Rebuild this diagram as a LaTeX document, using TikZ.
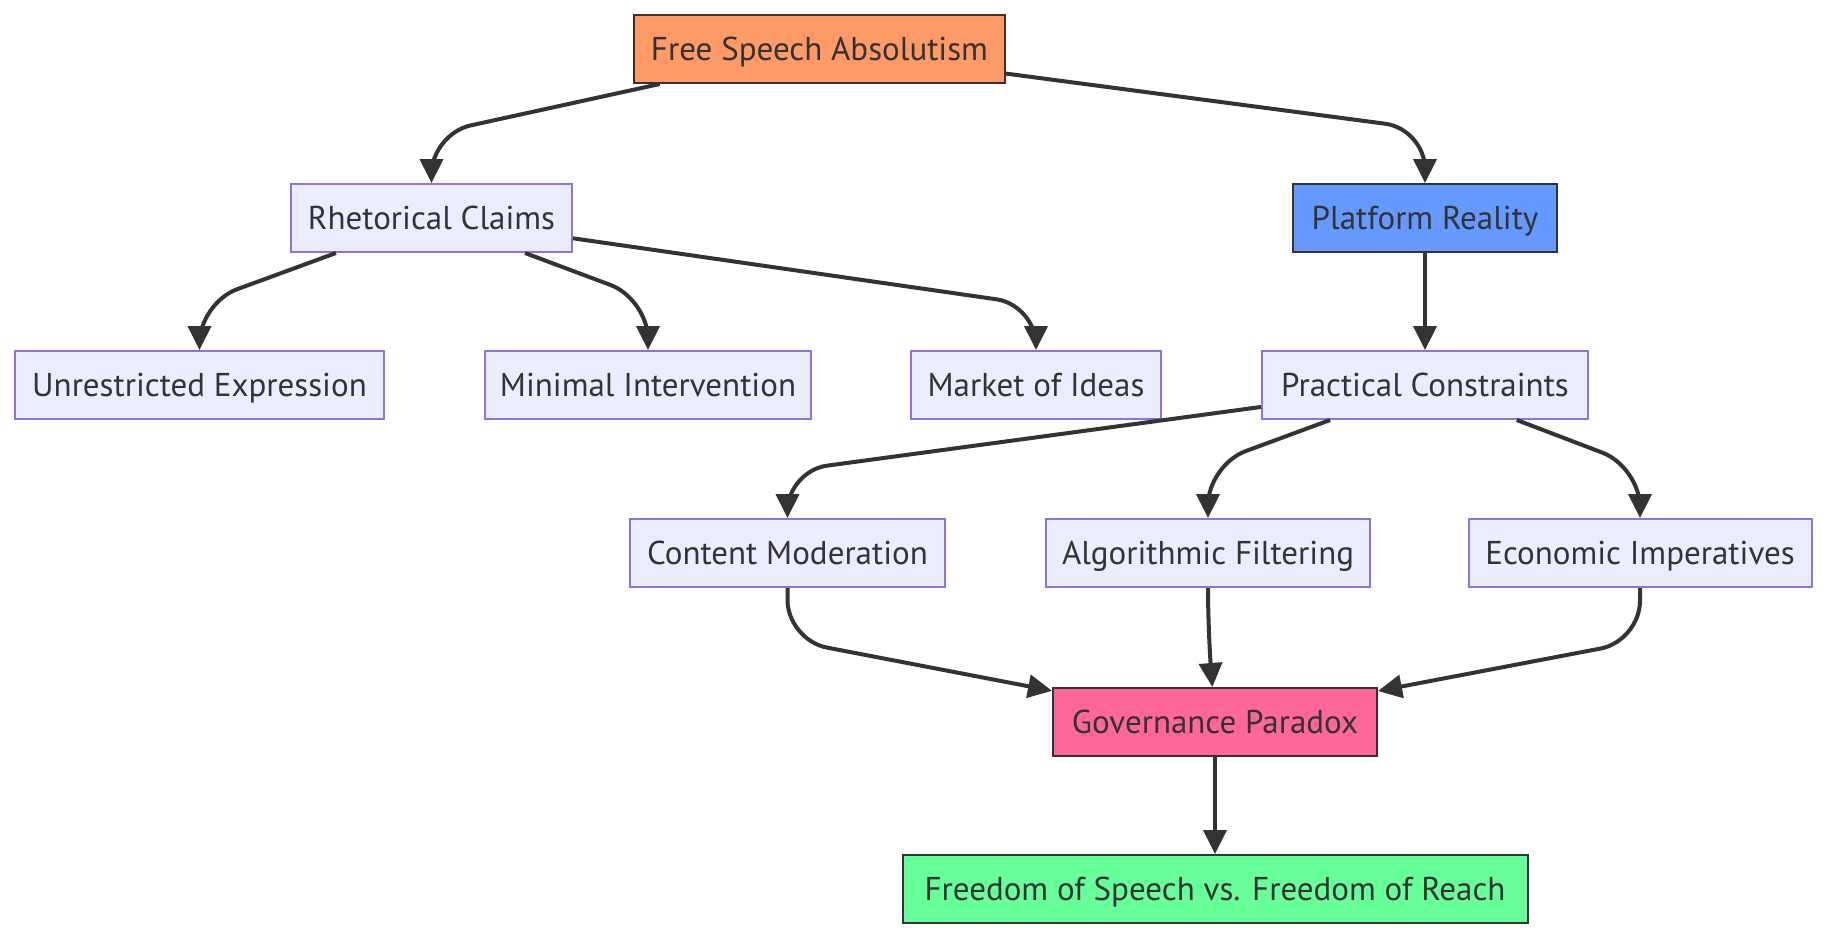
\documentclass[tikz,border=0pt]{standalone}
\usepackage{fontspec}
\setmainfont{PT Sans}
\usetikzlibrary{arrows.meta}
\definecolor{fsink}{HTML}{333333}
\definecolor{fsplain}{HTML}{ECECFF}
\definecolor{fsplainline}{HTML}{9370DB}
\definecolor{fsorange}{HTML}{FF9966}
\definecolor{fsblue}{HTML}{6699FF}
\definecolor{fspink}{HTML}{FF6699}
\definecolor{fsgreen}{HTML}{66FF99}
\tikzset{
  fsbox/.style={
    draw=fsplainline, fill=fsplain, line width=2pt, inner sep=0pt,
    minimum height=68pt, text height=30pt, text depth=7pt,
    font=\fontsize{33}{40}\selectfont, text=fsink},
  fskey/.style={fsbox, draw=fsink},
  fsarrow/.style={
    -{Triangle[length=24pt, width=23pt]}, draw=fsink, line width=4pt,
    rounded corners=40pt},
}

\begin{document}
\begin{tikzpicture}[x=1pt, y=-1pt]
\useasboundingbox (0, 0) rectangle (1830, 940);

% Top of the tree.
\node[fskey, fill=fsorange, minimum width=371pt] (fsa) at (819.5, 49)
  {Free Speech Absolutism};
\node[fsbox, minimum width=281pt] (rc) at (431.5, 218) {Rhetorical Claims};
\node[fskey, fill=fsblue, minimum width=264pt] (pr) at (1425, 218)
  {Platform Reality};

% Claims on the left, constraints on the right.
\foreach \name/\x/\boxw/\txt in {%
    ue/199.5/369/{Unrestricted Expression},
    mi/648/326/{Minimal Intervention},
    mo/1036/250/{Market of Ideas},
    pc/1425/326/{Practical Constraints}} {
  \node[fsbox, minimum width=\boxw pt] (\name) at (\x, 385) {\txt};
}
\foreach \name/\x/\boxw/\txt in {%
    cm/787.5/315/{Content Moderation},
    af/1208/324/{Algorithmic Filtering},
    ei/1640/343/{Economic Imperatives}} {
  \node[fsbox, minimum width=\boxw pt] (\name) at (\x, 553) {\txt};
}

% Where it all ends up.
\node[fskey, fill=fspink, minimum width=324pt] (gp) at (1215, 722)
  {Governance Paradox};
\node[fskey, fill=fsgreen, minimum width=625pt] (fr) at (1215, 889)
  {Freedom of Speech vs. Freedom of Reach};

% Connectors, each bent once.
\foreach \src/\cx/\cy/\dst in {%
    fsa/431.5/134/rc, fsa/1425/129/pr,
    rc/199.5/303/ue, rc/648/299/mi, rc/1036/305/mo,
    pc/787.5/471/cm, pc/1208/465/af, pc/1640/467/ei,
    cm/787.5/640/gp, af/1208/630/gp, ei/1640/641/gp} {
  \draw[fsarrow] (\src) -- (\cx, \cy) -- (\dst);
}
\draw[fsarrow] (pr) -- (pc);
\draw[fsarrow] (gp) -- (fr);

\end{tikzpicture}
\end{document}
